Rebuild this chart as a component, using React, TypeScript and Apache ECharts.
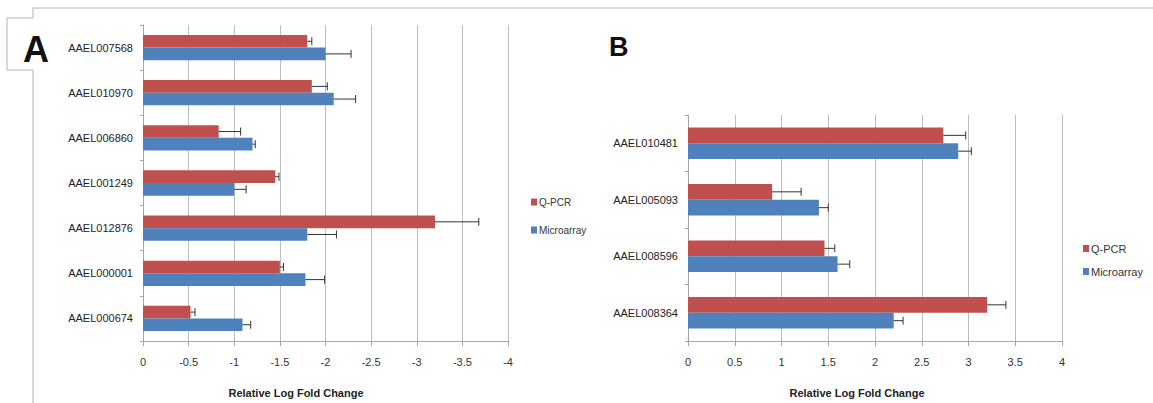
import React, { useEffect, useRef } from "react";
import * as echarts from "echarts";

const catsA = ["AAEL007568", "AAEL010970", "AAEL006860", "AAEL001249", "AAEL012876", "AAEL000001", "AAEL000674"];
const qpcrA = [-1.8, -1.85, -0.83, -1.45, -3.2, -1.5, -0.52];
const qpcrErrA = [-1.85, -2.02, -1.07, -1.49, -3.68, -1.54, -0.57];
const microA = [-2.0, -2.09, -1.2, -1.0, -1.8, -1.78, -1.09];
const microErrA = [-2.28, -2.33, -1.23, -1.13, -2.12, -1.99, -1.18];

const catsB = ["AAEL010481", "AAEL005093", "AAEL008596", "AAEL008364"];
const qpcrB = [2.73, 0.9, 1.46, 3.2];
const qpcrErrB = [2.97, 1.21, 1.57, 3.4];
const microB = [2.89, 1.4, 1.6, 2.2];
const microErrB = [3.03, 1.5, 1.73, 2.3];

const RED = "#C0504D";
const BLUE = "#4F81BD";
const FONT = "'Liberation Sans Narrow', 'Arial Narrow', 'Liberation Sans', sans-serif";
const GAP = 0.44;

function errSeries(name: string, vals: number[], errs: number[], cats: string[], axis: number, sign: number) {
  return {
    type: "custom",
    name: name + "-err",
    xAxisIndex: axis,
    yAxisIndex: axis,
    silent: true,
    z: 5,
    encode: { x: 0, y: 1 },
    data: vals.map((v, i) => [v, cats[i], errs[i]]),
    renderItem: (params: any, api: any) => {
      const band = api.size([0, 1])[1];
      const barH = (band * (1 - GAP)) / 2;
      const cat = api.value(1);
      const p0 = api.coord([api.value(0), cat]);
      const p1 = api.coord([api.value(2), cat]);
      const y = p0[1] + (sign * barH) / 2;
      const style = { stroke: "#333", lineWidth: 1 };
      return {
        type: "group",
        children: [
          { type: "line", shape: { x1: p0[0], y1: y, x2: p1[0], y2: y }, style },
          { type: "line", shape: { x1: p1[0], y1: y - 4, x2: p1[0], y2: y + 4 }, style },
        ],
      };
    },
  };
}

function valueAxis(idx: number, min: number, max: number, inverse: boolean) {
  return {
    type: "value",
    gridIndex: idx,
    min,
    max,
    interval: 0.5,
    inverse,
    axisLine: { show: true, lineStyle: { color: "#a6a6a6", width: 1 } },
    axisTick: { show: true, length: 5, lineStyle: { color: "#a6a6a6" } },
    splitLine: { show: true, lineStyle: { color: "#bdbdbd", width: 1 } },
    axisLabel: {
      fontFamily: FONT,
      fontSize: 11,
      color: "#333",
      margin: 15,
      formatter: (v: number) => (v === 0 ? "0" : String(v)),
    },
  };
}

function catAxis(idx: number, cats: string[]) {
  return {
    type: "category",
    gridIndex: idx,
    data: cats,
    inverse: true,
    axisLine: { show: true, lineStyle: { color: "#a6a6a6" } },
    axisTick: { show: true, length: 3, lineStyle: { color: "#a6a6a6" } },
    axisLabel: { fontFamily: FONT, fontSize: 11, color: "#222", margin: 10 },
    splitLine: { show: false },
  };
}

export default function App() {
  const ref = useRef<HTMLDivElement>(null);
  useEffect(() => {
    if (!ref.current) return;
    const chart = echarts.init(ref.current, undefined, { renderer: "svg" });
    const barBase = { type: "bar", barGap: "0%", barCategoryGap: GAP * 100 + "%" };
    chart.setOption({
      animation: false,
      backgroundColor: "#fff",
      grid: [
        { left: 143, top: 25, width: 365, height: 316 },
        { left: 688, top: 115, width: 374, height: 226 },
      ],
      xAxis: [valueAxis(0, -4, 0, true), valueAxis(1, 0, 4, false)],
      yAxis: [catAxis(0, catsA), catAxis(1, catsB)],
      legend: [
        {
          orient: "vertical",
          left: 526,
          top: 192,
          itemWidth: 6,
          itemHeight: 7,
          itemGap: 18,
          icon: "rect",
          data: ["Q-PCR", "Microarray"],
          textStyle: { fontFamily: FONT, fontSize: 10, color: "#333", padding: [0, 0, 0, -3] },
        },
        {
          orient: "vertical",
          left: 1078,
          top: 238,
          itemWidth: 6,
          itemHeight: 7,
          itemGap: 12,
          icon: "rect",
          data: ["Q-PCR", "Microarray"],
          textStyle: { fontFamily: FONT, fontSize: 11, color: "#333", padding: [0, 0, 0, -3] },
        },
      ],
      series: [
        { ...barBase, name: "Q-PCR", xAxisIndex: 0, yAxisIndex: 0, data: qpcrA, itemStyle: { color: RED } },
        { ...barBase, name: "Microarray", xAxisIndex: 0, yAxisIndex: 0, data: microA, itemStyle: { color: BLUE } },
        { ...barBase, name: "Q-PCR", xAxisIndex: 1, yAxisIndex: 1, data: qpcrB, itemStyle: { color: RED } },
        { ...barBase, name: "Microarray", xAxisIndex: 1, yAxisIndex: 1, data: microB, itemStyle: { color: BLUE } },
        errSeries("Q-PCR", qpcrA, qpcrErrA, catsA, 0, -1),
        errSeries("Microarray", microA, microErrA, catsA, 0, 1),
        errSeries("Q-PCR", qpcrB, qpcrErrB, catsB, 1, -1),
        errSeries("Microarray", microB, microErrB, catsB, 1, 1),
      ],
      graphic: [
        {
          type: "polyline",
          silent: true,
          shape: { points: [[1153, 8], [33, 8], [33, 18], [7, 18], [7, 70], [33, 70], [33, 403]] },
          style: { stroke: "#d9d9d9", lineWidth: 2, fill: "none" },
        },
        {
          type: "text",
          left: 23,
          top: 31,
          style: { text: "A", font: "bold 36px 'Liberation Sans', Arial, sans-serif", fill: "#111" },
        },
        {
          type: "text",
          left: 609,
          top: 33,
          style: { text: "B", font: "bold 27px 'Liberation Sans', Arial, sans-serif", fill: "#111" },
        },
        {
          type: "text",
          x: 296,
          y: 393,
          style: {
            text: "Relative Log Fold Change",
            font: "bold 11px " + FONT,
            fill: "#222",
            align: "center",
            verticalAlign: "middle",
          },
        },
        {
          type: "text",
          x: 857,
          y: 393,
          style: {
            text: "Relative Log Fold Change",
            font: "bold 11px " + FONT,
            fill: "#222",
            align: "center",
            verticalAlign: "middle",
          },
        },
      ],
    });
    return () => chart.dispose();
  }, []);
  return (
    <div
      ref={ref}
      style={{ position: "fixed", left: 0, top: 0, width: 1153, height: 403 }}
    />
  );
}
